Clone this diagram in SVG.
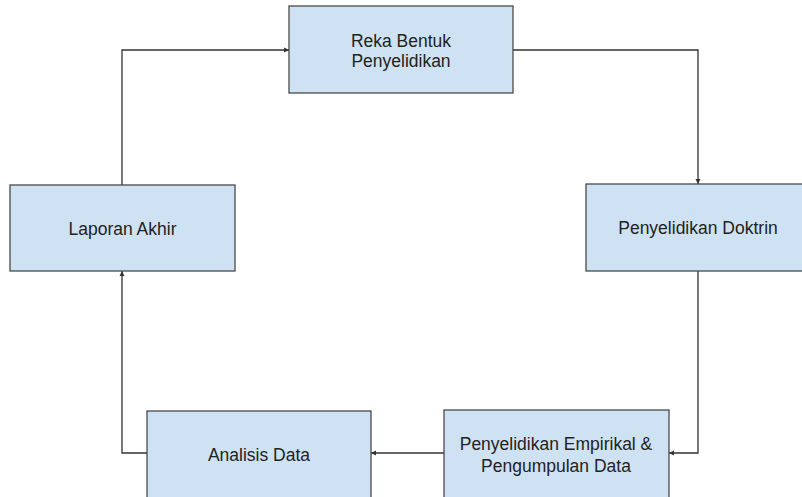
<svg xmlns="http://www.w3.org/2000/svg" width="802" height="497" viewBox="0 0 802 497">
  <style>
    .box { fill: #cfe2f3; stroke: #4a4a4a; stroke-width: 1.3; }
    .lbl { font-family: "Liberation Sans", Arial, sans-serif; font-size: 17.5px; fill: #222; text-anchor: middle; }
    .wire { fill: none; stroke: #333; stroke-width: 1.3; marker-end: url(#tip); }
  </style>
  <defs>
    <marker id="tip" viewBox="0 0 10 10" refX="10" refY="5" markerWidth="4" markerHeight="4" orient="auto" markerUnits="strokeWidth">
      <path d="M0,0 L10,5 L0,10 z" fill="#333"/>
    </marker>
  </defs>
  <rect width="802" height="497" fill="#fff"/>

  <g id="connectors">
    <path class="wire" d="M513,50 H698 V184"/>
    <path class="wire" d="M698,271 V453 H669"/>
    <path class="wire" d="M444,453 H371"/>
    <path class="wire" d="M147,453 H122 V271"/>
    <path class="wire" d="M122,185 V50 H289"/>
  </g>

  <g id="reka-bentuk">
    <rect class="box" x="289" y="6" width="224" height="87"/>
    <text class="lbl" x="401" y="47">Reka Bentuk</text>
    <text class="lbl" x="401" y="67">Penyelidikan</text>
  </g>

  <g id="penyelidikan-doktrin">
    <rect class="box" x="586" y="184" width="230" height="87"/>
    <text class="lbl" x="698" y="234">Penyelidikan Doktrin</text>
  </g>

  <g id="penyelidikan-empirikal">
    <rect class="box" x="444" y="410" width="225" height="100"/>
    <text class="lbl" x="556" y="450">Penyelidikan Empirikal &amp;</text>
    <text class="lbl" x="556" y="472">Pengumpulan Data</text>
  </g>

  <g id="analisis-data">
    <rect class="box" x="147" y="411" width="224" height="100"/>
    <text class="lbl" x="259" y="461">Analisis Data</text>
  </g>

  <g id="laporan-akhir">
    <rect class="box" x="10" y="185" width="225" height="86"/>
    <text class="lbl" x="122.5" y="235">Laporan Akhir</text>
  </g>
</svg>
